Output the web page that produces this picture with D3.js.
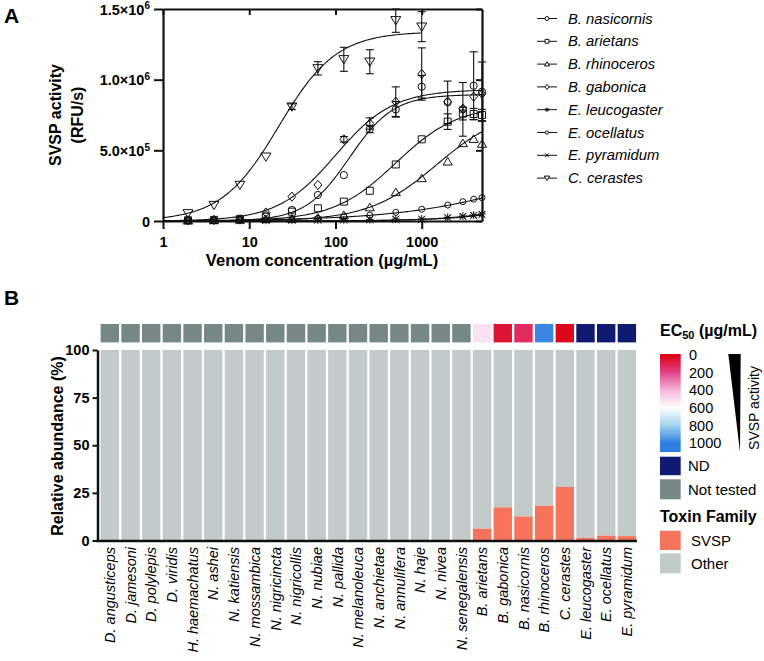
<!DOCTYPE html>
<html><head><meta charset="utf-8">
<script src="https://cdn.jsdelivr.net/npm/d3@7"></script>
<style>
body{margin:0;background:#fff}
svg{display:block}
text{font-family:"Liberation Sans",Arial,Helvetica,sans-serif;fill:#000}
</style>
</head><body>
<svg id="chart" width="764" height="661"></svg>
<script>
// ---------------- Panel A data ----------------
const concentrations = [1.95, 3.9, 7.8, 15.6, 31.25, 62.5, 125, 250, 500, 1000, 2000, 3000, 4000, 5000];
const cerastesConc   = [1.95, 3.9, 7.8, 15.6, 31.25, 62.5, 125, 250, 500, 1000];
const speciesA = ["B. nasicornis","B. arietans","B. rhinoceros","B. gabonica","E. leucogaster","E. ocellatus","E. pyramidum","C. cerastes"];
const markersA = ["circle","square","triangle","diamond","asterisk","smallcircle","cross","triangleDown"];

const nasicornisAct   = [4e3, 6e3, 1.0e4, 4.0e4, 7.8e4, 1.84e5, 3.25e5, 6.5e5, 7.9e5, 9.5e5, 8.4e5, 7.9e5, 9.57e5, 9.15e5];
const nasicornisErr   = [0, 0, 0, 0, 0, 0, 0, 2.5e4, 5.5e4, 8e4, 1.5e5, 1.9e5, 2.4e5, 2.1e5];
const arietansAct     = [5e3, 8e3, 1.5e4, 3.0e4, 6.6e4, 9.0e4, 1.37e5, 2.14e5, 4.0e5, 5.78e5, 7.03e5, 7.6e5, 7.57e5, 7.5e5];
const arietansErr     = [0, 0, 0, 0, 0, 0, 0, 0, 0, 0, 5.5e4, 4.5e4, 4e4, 4e4];
const rhinocerosAct   = [3e3, 5e3, 8e3, 1.2e4, 1.5e4, 2.2e4, 4.2e4, 9.6e4, 2.03e5, 3.02e5, 4.2e5, 5.5e5, 5.8e5, 5.45e5];
const rhinocerosErr   = [0, 0, 0, 0, 0, 0, 0, 0, 0, 0, 0, 0, 0, 0];
const gabonicaAct     = [5e3, 8e3, 1.2e4, 6.0e4, 1.72e5, 2.55e5, 5.78e5, 6.9e5, 8.44e5, 1.04e6, 8.45e5, 7.95e5, 8.8e5, 9.0e5];
const gabonicaErr     = [0, 0, 0, 0, 0, 0, 2e4, 4e4, 1.05e5, 1.85e5, 0, 0, 0, 0];
const leucogasterAct  = [2e3, 3e3, 4e3, 5e3, 6e3, 7e3, 8e3, 1.0e4, 1.4e4, 1.4e4, 2.6e4, 3.5e4, 4.2e4, 5.0e4];
const ocellatusAct    = [3e3, 4e3, 6e3, 9e3, 1.2e4, 1.8e4, 3.0e4, 4.2e4, 6.1e4, 8.3e4, 1.13e5, 1.37e5, 1.54e5, 1.65e5];
const pyramidumAct    = [2e3, 2e3, 3e3, 4e3, 5e3, 6e3, 7e3, 9e3, 1.1e4, 1.2e4, 2.2e4, 3.1e4, 3.8e4, 4.5e4];
const zeroErr         = [0, 0, 0, 0, 0, 0, 0, 0, 0, 0, 0, 0, 0, 0];
const cerastesAct     = [5.4e4, 1.13e5, 2.55e5, 4.55e5, 8.09e5, 1.08e6, 1.144e6, 1.127e6, 1.42e6, 1.375e6];
const cerastesErr     = [0, 0, 0, 0, 2e4, 4.7e4, 8.5e4, 8.5e4, 8.5e4, 1.06e5];

// fitted 4-parameter logistic curves (top, EC50, Hill)
const fitTop  = [8.95e5, 8.2e5, 8.0e5, 9.3e5, 5.0e5, 6.0e5, 5.0e5, 1.34e6];
const fitEC50 = [145, 500, 1500, 100, 60000, 30000, 70000, 22];
const fitHill = [1.7, 1.2, 1.1, 1.3, 0.9, 0.55, 0.9, 1.3];

const xTicksA = [1, 10, 100, 1000];
const yTicksA = [0, 5e5, 1e6, 1.5e6];
const yTickLabelsA = [["0",""], ["5.0\u00d710","5"], ["1.0\u00d710","6"], ["1.5\u00d710","6"]];

// ---------------- Panel B data ----------------
const categoriesB = ["D. angusticeps","D. jamesoni","D. polylepis","D. viridis","H. haemachatus","N. ashei","N. katiensis","N. mossambica","N. nigricincta","N. nigricollis","N. nubiae","N. pallida","N. melanoleuca","N. anchietae","N. annulifera","N. haje","N. nivea","N. senegalensis","B. arietans","B. gabonica","B. nasicornis","B. rhinoceros","C. cerastes","E. leucogaster","E. ocellatus","E. pyramidum"];
const svspPercent = [0,0,0,0,0,0,0,0,0,0,0,0,0,0,0,0,0,0, 6.2, 17.4, 12.6, 18.3, 28.1, 1.4, 2.5, 2.3];
const ec50Status  = ["NT","NT","NT","NT","NT","NT","NT","NT","NT","NT","NT","NT","NT","NT","NT","NT","NT","NT","val","val","val","val","val","ND","ND","ND"];
const ec50Values  = [null,null,null,null,null,null,null,null,null,null,null,null,null,null,null,null,null,null, 520, 60, 130, 980, 20, null, null, null];
const yTicksB = [0, 25, 50, 75, 100];
const ec50Stops  = [0, 200, 400, 600, 800, 1000];
const ec50Colors = ["#dc0010", "#e3438b", "#f4b6da", "#ffffff", "#a2d2ec", "#2f80e2"];
const colorNT = "#778785", colorND = "#0f1a70", colorSVSP = "#f7745c", colorOther = "#c3cbca";

// ---------------- drawing ----------------
const svg = d3.select("#chart");
const FONT = '"Liberation Sans",Arial,Helvetica,sans-serif';

function markerPath(type, k) {
  k = k || 1;
  const p = d3.path();
  if (type === "circle" || type === "smallcircle") {
    const r = (type === "circle" ? 3.6 : 3.0) * k;
    p.moveTo(r, 0); p.arc(0, 0, r, 0, 2 * Math.PI);
  } else if (type === "square") {
    const h = 3.5 * k; p.rect(-h, -h, 2 * h, 2 * h);
  } else if (type === "diamond") {
    const h = 4.6 * k; p.moveTo(0, -h); p.lineTo(h * 0.85, 0); p.lineTo(0, h); p.lineTo(-h * 0.85, 0); p.closePath();
  } else if (type === "triangle") {
    const w = 4.6 * k, h = 4.2 * k; p.moveTo(0, -h); p.lineTo(w, h * 0.8); p.lineTo(-w, h * 0.8); p.closePath();
  } else if (type === "triangleDown") {
    const w = 5 * k, h = 4.6 * k; p.moveTo(0, h); p.lineTo(w, -h * 0.8); p.lineTo(-w, -h * 0.8); p.closePath();
  } else if (type === "asterisk") {
    const r = 4 * k;
    for (let i = 0; i < 4; i++) { const a = i * Math.PI / 4; p.moveTo(-r * Math.cos(a), -r * Math.sin(a)); p.lineTo(r * Math.cos(a), r * Math.sin(a)); }
  } else if (type === "cross") {
    const r = 3.6 * k; p.moveTo(-r, -r); p.lineTo(r, r); p.moveTo(-r, r); p.lineTo(r, -r);
  }
  return p.toString();
}

// ===== Panel A =====
const seriesA = [
  {conc: concentrations, act: nasicornisAct, err: nasicornisErr},
  {conc: concentrations, act: arietansAct, err: arietansErr},
  {conc: concentrations, act: rhinocerosAct, err: rhinocerosErr},
  {conc: concentrations, act: gabonicaAct, err: gabonicaErr},
  {conc: concentrations, act: leucogasterAct, err: zeroErr},
  {conc: concentrations, act: ocellatusAct, err: zeroErr},
  {conc: concentrations, act: pyramidumAct, err: zeroErr},
  {conc: cerastesConc, act: cerastesAct, err: cerastesErr}
].map((s, i) => Object.assign(s, {name: speciesA[i], marker: markersA[i], top: fitTop[i], ec50: fitEC50[i], hill: fitHill[i]}));

const xA = d3.scaleLog().domain([1, 5000]).range([163, 482]);
const yA = d3.scaleLinear().domain([0, 1.5e6]).range([221, 9]);

const gA = svg.append("g");
// curves
const line = d3.line().x(d => xA(d[0])).y(d => yA(d[1]));
seriesA.forEach(s => {
  const maxC = d3.max(s.conc);
  const pts = d3.range(0, 201).map(i => {
    const c = Math.pow(10, Math.log10(maxC) * i / 200);
    return [c, s.top / (1 + Math.pow(s.ec50 / c, s.hill))];
  });
  gA.append("path").attr("d", line(pts)).attr("fill", "none").attr("stroke", "#111").attr("stroke-width", 1.1);
});
// error bars + markers
seriesA.forEach(s => {
  s.act.forEach((v, i) => {
    const e = s.err[i], cx = xA(s.conc[i]);
    if (e > 0) {
      const y1 = yA(Math.min(v + e, 1.5e6)), y2 = yA(v - e);
      gA.append("line").attr("x1", cx).attr("x2", cx).attr("y1", y1).attr("y2", y2).attr("stroke", "#111").attr("stroke-width", 1.1);
      [y1, y2].forEach(yy => gA.append("line").attr("x1", cx - 4).attr("x2", cx + 4).attr("y1", yy).attr("y2", yy).attr("stroke", "#111").attr("stroke-width", 1.1));
    }
    gA.append("path").attr("d", markerPath(s.marker)).attr("transform", `translate(${cx},${yA(v)})`)
      .attr("fill", "none").attr("stroke", "#111").attr("stroke-width", 1);
  });
});

// axes
const axB = gA.append("g").attr("transform", "translate(0,221)")
  .call(d3.axisBottom(xA).tickValues(xTicksA).tickFormat(d3.format("d")).tickSize(8).tickSizeOuter(0));
const axL = gA.append("g").attr("transform", "translate(163,0)")
  .call(d3.axisLeft(yA).tickValues(yTicksA).tickFormat("").tickSize(9).tickSizeOuter(0));
const axT = gA.append("g").attr("transform", "translate(0,9)")
  .call(d3.axisTop(xA).tickValues(xTicksA).tickFormat("").tickSize(-6).tickSizeOuter(0));
const axR = gA.append("g").attr("transform", "translate(482,0)")
  .call(d3.axisRight(yA).tickValues(yTicksA).tickFormat("").tickSize(-6).tickSizeOuter(0));
[axB, axL, axT, axR].forEach(a => {
  a.select(".domain").attr("stroke", "#111").attr("stroke-width", 2.2);
  a.selectAll(".tick line").attr("stroke", "#111").attr("stroke-width", 2);
});
axB.selectAll(".tick text").attr("font-family", FONT).attr("font-size", 14.5).attr("font-weight", "bold").attr("fill", "#111").attr("dy", "1.05em");
axL.selectAll(".tick").each(function(d, i) {
  const t = d3.select(this).select("text").attr("font-family", FONT).attr("font-size", 14.5).attr("font-weight", "bold").attr("fill", "#111").attr("x", -13).attr("dy", "0.36em");
  const lab = yTickLabelsA[yTicksA.indexOf(d)];
  t.text(null);
  t.append("tspan").text(lab[0]);
  if (lab[1]) t.append("tspan").attr("font-size", 10).attr("dy", "-0.55em").text(lab[1]);
});

// axis titles
gA.append("text").attr("transform", "translate(61,115) rotate(-90)").attr("text-anchor", "middle")
  .attr("font-size", 16).attr("font-weight", "bold").text("SVSP activity");
gA.append("text").attr("transform", "translate(83,115) rotate(-90)").attr("text-anchor", "middle")
  .attr("font-size", 16).attr("font-weight", "bold").text("(RFU/s)");
gA.append("text").attr("x", 322).attr("y", 266).attr("text-anchor", "middle")
  .attr("font-size", 16.5).attr("font-weight", "bold").text("Venom concentration (\u00b5g/mL)");

// legend A
seriesA.forEach((s, i) => {
  const yy = 18.5 + i * 22.8;
  gA.append("line").attr("x1", 537).attr("x2", 557).attr("y1", yy).attr("y2", yy).attr("stroke", "#111").attr("stroke-width", 1);
  gA.append("path").attr("d", markerPath(s.marker, 0.55)).attr("transform", `translate(547,${yy})`).attr("fill", "#fff").attr("stroke", "#111").attr("stroke-width", 1);
  gA.append("text").attr("x", 568).attr("y", yy + 5).attr("font-size", 14.8).attr("font-style", "italic").text(s.name);
});

// panel labels
svg.append("text").attr("x", 4).attr("y", 23).attr("font-size", 21).attr("font-weight", "bold").text("A");
svg.append("text").attr("x", 4).attr("y", 305).attr("font-size", 21).attr("font-weight", "bold").text("B");

// ===== Panel B =====
const gB = svg.append("g");
const xB = d3.scaleBand().domain(categoriesB).range([99.5, 637.2]).paddingInner(0.11).paddingOuter(0.055);
const yB = d3.scaleLinear().domain([0, 100]).range([540.5, 350]);
const ec50Color = d3.scaleLinear().domain(ec50Stops).range(ec50Colors).clamp(true);

// heat strip
gB.selectAll("rect.heat").data(categoriesB).join("rect").attr("class", "heat")
  .attr("x", d => xB(d)).attr("width", xB.bandwidth()).attr("y", 324).attr("height", 18.4)
  .attr("fill", (d, i) => ec50Status[i] === "NT" ? colorNT : ec50Status[i] === "ND" ? colorND : ec50Color(ec50Values[i]));

// bars: other (top) then SVSP (bottom)
gB.selectAll("rect.other").data(categoriesB).join("rect").attr("class", "other")
  .attr("x", d => xB(d)).attr("width", xB.bandwidth())
  .attr("y", yB(100)).attr("height", (d, i) => yB(svspPercent[i]) - yB(100)).attr("fill", colorOther);
gB.selectAll("rect.svsp").data(categoriesB).join("rect").attr("class", "svsp")
  .attr("x", d => xB(d)).attr("width", xB.bandwidth())
  .attr("y", (d, i) => yB(svspPercent[i])).attr("height", (d, i) => yB(0) - yB(svspPercent[i])).attr("fill", colorSVSP);

// axes
const axBL = gB.append("g").attr("transform", "translate(97.5,0)")
  .call(d3.axisLeft(yB).tickValues(yTicksB).tickSize(5).tickSizeOuter(0));
axBL.select(".domain").attr("stroke", "#111").attr("stroke-width", 2.5);
axBL.selectAll(".tick line").attr("stroke", "#111").attr("stroke-width", 2);
axBL.selectAll(".tick text").attr("font-family", FONT).attr("font-size", 14.5).attr("font-weight", "bold").attr("fill", "#111").attr("x", -8);
const axBB = gB.append("g").attr("transform", "translate(0,541)")
  .call(d3.axisBottom(xB).tickSize(0).tickSizeOuter(0));
axBB.select(".domain").attr("stroke", "#111").attr("stroke-width", 2.5).attr("d", "M96.3,0H637");
axBB.selectAll(".tick text").attr("font-family", FONT).attr("font-size", 14.5).attr("font-style", "italic").attr("fill", "#111")
  .attr("text-anchor", "end").attr("transform", "rotate(-90)").attr("x", -6).attr("y", 0).attr("dy", "0.36em");

gB.append("text").attr("transform", "translate(63,446) rotate(-90)").attr("text-anchor", "middle")
  .attr("font-size", 16).attr("font-weight", "bold").text("Relative abundance (%)");

// colour legend
const gL = svg.append("g");
const tEC = gL.append("text").attr("x", 660).attr("y", 336).attr("font-size", 16).attr("font-weight", "bold");
tEC.append("tspan").text("EC");
tEC.append("tspan").attr("font-size", 11).attr("dy", 3).text("50");
tEC.append("tspan").attr("dy", -3).text(" (\u00b5g/mL)");

const yC = d3.scaleLinear().domain([0, 1000]).range([355, 443]);
const grad = svg.append("defs").append("linearGradient").attr("id", "ecgrad")
  .attr("gradientUnits", "userSpaceOnUse").attr("x1", 0).attr("x2", 0).attr("y1", yC(0)).attr("y2", yC(1000));
ec50Stops.forEach((s, i) => grad.append("stop").attr("offset", s / 1000).attr("stop-color", ec50Colors[i]));
gL.append("rect").attr("x", 660).attr("y", 354).attr("width", 20.7).attr("height", 98).attr("fill", "url(#ecgrad)");
ec50Stops.forEach(s => gL.append("text").attr("x", 689).attr("y", yC(s)).attr("dy", "0.36em").attr("font-size", 14.5).text(s));

gL.append("polygon").attr("points", "728.3,354 740.7,354 740,452").attr("fill", "#000");
gL.append("text").attr("transform", "translate(759,408) rotate(-90)").attr("text-anchor", "middle").attr("font-size", 14).text("SVSP activity");

const boxes = [
  {y: 456.7, h: 18.5, c: colorND, t: "ND", tx: 688},
  {y: 479.3, h: 20, c: colorNT, t: "Not tested", tx: 688},
  {y: 530.7, h: 19.3, c: colorSVSP, t: "SVSP", tx: 691},
  {y: 553.3, h: 20, c: colorOther, t: "Other", tx: 691}
];
boxes.forEach(b => {
  gL.append("rect").attr("x", 660).attr("y", b.y).attr("width", 20.7).attr("height", b.h).attr("fill", b.c);
  gL.append("text").attr("x", b.tx).attr("y", b.y + b.h / 2).attr("dy", "0.36em").attr("font-size", 15).text(b.t);
});
gL.append("text").attr("x", 660).attr("y", 522).attr("font-size", 16).attr("font-weight", "bold").text("Toxin Family");
</script>
</body></html>
